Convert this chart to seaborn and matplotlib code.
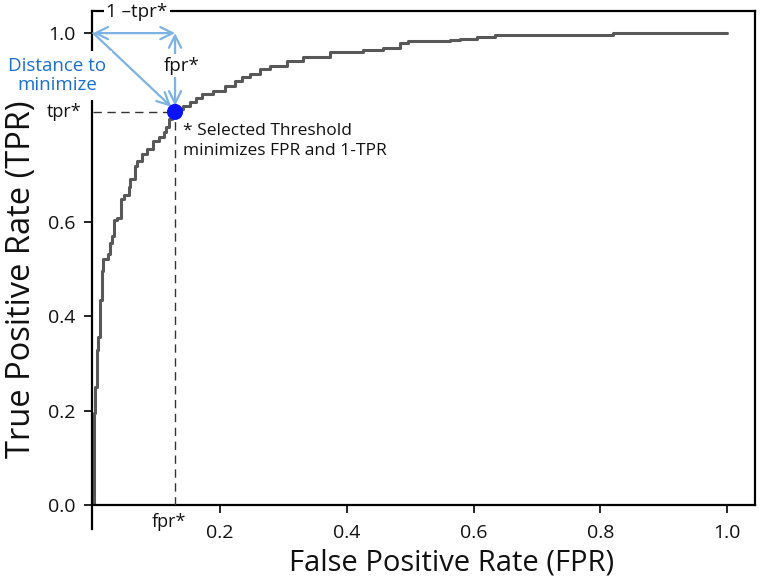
import matplotlib
matplotlib.use("Agg")
import matplotlib.pyplot as plt
import matplotlib.transforms as mtransforms
import seaborn as sns
import pandas as pd

# ROC curve step points (fpr, tpr)
fpr = [0.000, 0.001, 0.003, 0.006, 0.008, 0.011, 0.013, 0.014, 0.016, 0.023,
       0.027, 0.029, 0.032, 0.037, 0.043, 0.048, 0.056, 0.058, 0.066, 0.069,
       0.077, 0.085, 0.095, 0.103, 0.111, 0.114, 0.119, 0.125, 0.129, 0.132,
       0.142, 0.153, 0.162, 0.172, 0.189, 0.208, 0.224, 0.235, 0.248, 0.263,
       0.279, 0.306, 0.331, 0.358, 0.374, 0.401, 0.426, 0.457, 0.484, 0.497,
       0.563, 0.579, 0.606, 0.634, 0.677, 0.820, 1.000]
tpr = [0.000, 0.195, 0.251, 0.329, 0.355, 0.435, 0.473, 0.495, 0.522, 0.531,
       0.556, 0.569, 0.605, 0.609, 0.648, 0.658, 0.673, 0.690, 0.718, 0.728,
       0.743, 0.754, 0.771, 0.779, 0.790, 0.800, 0.817, 0.828, 0.833, 0.839,
       0.845, 0.854, 0.862, 0.870, 0.877, 0.887, 0.898, 0.907, 0.913, 0.924,
       0.930, 0.941, 0.949, 0.950, 0.959, 0.961, 0.965, 0.969, 0.978, 0.984,
       0.986, 0.988, 0.991, 0.995, 0.997, 1.000, 1.000]

fpr_star = 0.129
tpr_star = 0.833

x_ticks = [0.2, 0.4, 0.6, 0.8, 1.0]
x_tick_labels = ["0.2", "0.4", "0.6", "0.8", "1.0"]
y_ticks = [0.0, 0.2, 0.4, 0.6, 1.0]
y_tick_labels = ["0.0", "0.2", "0.4", "0.6", "1.0"]

sns.set_theme(style="white")
plt.rcParams["font.family"] = ["Open Sans", "DejaVu Sans"]

fig = plt.figure(figsize=(7.65, 5.88), dpi=100)
ax = fig.add_axes([92 / 765, 83 / 588, (755 - 92) / 765, (505 - 12) / 588 + 0.001])

df = pd.DataFrame({"FPR": fpr, "TPR": tpr})
sns.lineplot(data=df, x="FPR", y="TPR", ax=ax, color="#585858", linewidth=2.2,
             drawstyle="steps-post", estimator=None, sort=False)

ax.set_xlim(-0.002, 1.044)
ax.set_ylim(0.0, 1.046)

# dashed guides
ax.plot([0, fpr_star], [tpr_star, tpr_star], color="#333333", lw=1.0,
        linestyle=(0, (6, 4)), zorder=3)
ax.plot([fpr_star, fpr_star], [0, tpr_star], color="#333333", lw=1.0,
        linestyle=(0, (6, 4)), zorder=3)

# selected point
sns.scatterplot(x=[fpr_star], y=[tpr_star], ax=ax, color="#0a12ff", s=135,
                edgecolor="none", zorder=6)

arrow_col = "#7db2e4"
ap = dict(color=arrow_col, lw=1.6, mutation_scale=22, shrinkA=0, shrinkB=0)
ax.annotate("", xy=(fpr_star, 1.0), xytext=(0.0, 1.0),
            arrowprops=dict(arrowstyle="<->", **ap), annotation_clip=False, zorder=5)
ax.annotate("", xy=(fpr_star, tpr_star + 0.013), xytext=(fpr_star, 1.0),
            arrowprops=dict(arrowstyle="<->", **ap), annotation_clip=False, zorder=5)
ax.annotate("", xy=(fpr_star - 0.006, tpr_star + 0.011), xytext=(0.0, 1.0),
            arrowprops=dict(arrowstyle="->", **ap), annotation_clip=False, zorder=5)

white = dict(facecolor="white", edgecolor="none", pad=1.5)
ax.text(0.069, 1.044, "1 \u2013tpr*", ha="center", va="center", fontsize=13.5,
        color="#111111", bbox=white, zorder=7, clip_on=False)
ax.text(0.139, 0.931, "fpr*", ha="center", va="center", fontsize=13.5,
        color="#111111", bbox=dict(facecolor="white", edgecolor="none", pad=2), zorder=7)
ax.text(-0.057, 0.910, "Distance to\nminimize", ha="center", va="center",
        fontsize=13.5, color="#1a6fd4", linespacing=1.1,
        bbox=dict(facecolor="white", edgecolor="none", pad=4), zorder=7, clip_on=False)
ax.text(0.142, 0.772, "* Selected Threshold\nminimizes FPR and 1-TPR", ha="left",
        va="center", fontsize=12.5, color="#111111", linespacing=1.3, zorder=7)

trans_y = mtransforms.blended_transform_factory(ax.transAxes, ax.transData)
ax.text(-0.016, tpr_star, "tpr*", transform=trans_y, ha="right", va="center",
        fontsize=13, color="#111111", clip_on=False)
ax.text(fpr_star - 0.009, -0.037, "fpr*", ha="center", va="center",
        fontsize=13, color="#111111", clip_on=False)

ax.set_xticks(x_ticks)
ax.set_xticklabels(x_tick_labels)
ax.set_yticks(y_ticks)
ax.set_yticklabels(y_tick_labels)
ax.tick_params(axis="both", direction="out", length=6, width=1.2, color="black",
               labelsize=14, labelcolor="#111111", bottom=True, left=True)
ax.tick_params(axis="x", pad=8)
ax.tick_params(axis="y", pad=6)

for side in ["top", "bottom", "left", "right"]:
    ax.spines[side].set_color("black")
    ax.spines[side].set_linewidth(1.6)
ax.spines["left"].set_bounds(-0.05, 1.046)

ax.set_xlabel("False Positive Rate (FPR)", fontsize=21, color="#111111")
ax.xaxis.set_label_coords(0.543, -0.088)
ax.xaxis.label.set_va("top")
ax.set_ylabel("True Positive Rate (TPR)", fontsize=23.5, color="#111111")
ax.yaxis.set_label_coords(-0.106, 0.458)
ax.yaxis.label.set_va("center")

fig.savefig("out.png", dpi=100)
